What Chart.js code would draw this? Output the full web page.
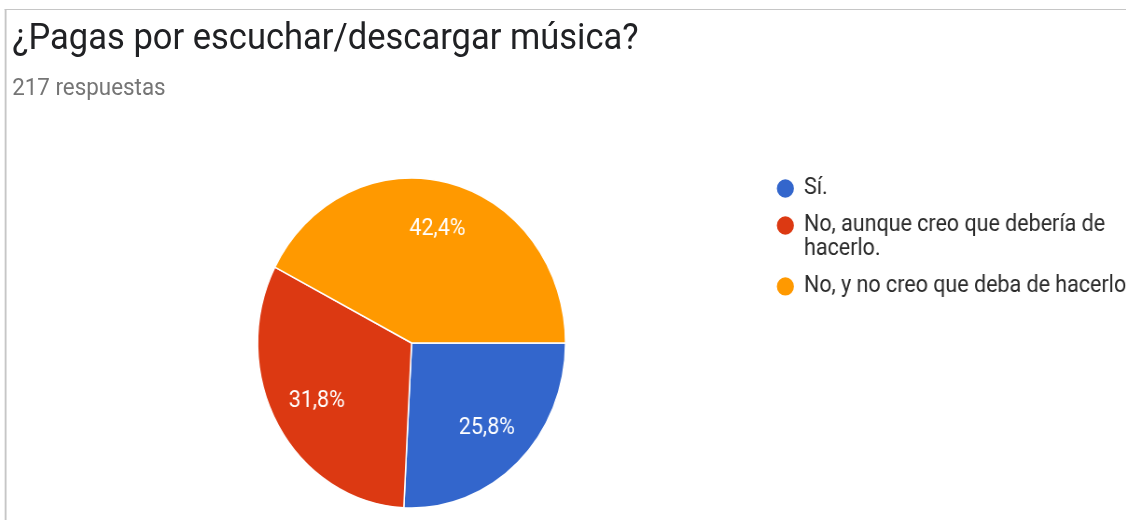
<!DOCTYPE html>
<html>
<head>
<meta charset="utf-8">
<script src="https://cdn.jsdelivr.net/npm/chart.js@4.4.1/dist/chart.umd.min.js"></script>
<style>
    html, body{
        margin: 0;
        padding: 0;
        background: #fff;
        overflow: hidden;
        width: 1126px;
        height: 520px;
    }
    #tarjeta{
        position: absolute;
        left: 0;
        top: 0;
        width: 1207px;
        height: 520px;
        transform: scaleX(0.933);
        transform-origin: 0 0;
        overflow: hidden;
        font-family: Roboto, Arial, sans-serif;
    }
    #marco{
        position: absolute;
        left: 5px;
        top: 9px;
        right: -10px;
        bottom: -10px;
        border-top: 1px solid #c6c6c6;
        border-left: 2px solid #c6c6c6;
    }
    #titulo{
        position: absolute;
        left: 13px;
        top: 18px;
        font-size: 37px;
        line-height: 37px;
        color: #202124;
        white-space: nowrap;
    }
    #subtitulo{
        position: absolute;
        left: 13px;
        top: 75px;
        font-size: 24px;
        line-height: 24px;
        color: #757575;
        white-space: nowrap;
    }
    #caja{
        position: absolute;
        left: 63px;
        top: 163px;
        width: 1154px;
        height: 360px;
    }
</style>
</head>
<body>
<div id="tarjeta">
    <div id="marco"></div>
    <div id="titulo">¿Pagas por escuchar/descargar música?</div>
    <div id="subtitulo">217 respuestas</div>
    <div id="caja"><canvas id="miGrafico" width="1154" height="360"></canvas></div>
</div>
<script>
// respuestas de la encuesta (217 en total)
const opciones = ["Sí.", ["No, aunque creo que debería de", "hacerlo."], "No, y no creo que deba de hacerlo"];
const respuestas = [56, 69, 92];
const colores = ["#3366cc", "#dc3912", "#ff9900"];

const total = respuestas.reduce((a, b) => a + b, 0);

function porcentaje(valor){
    return (valor / total * 100).toFixed(1).replace(".", ",") + "%";
}

// escribe el porcentaje dentro de cada porción
const etiquetas = {
    id: "etiquetas",
    afterDatasetsDraw(chart){
        const ctx = chart.ctx;
        const arcos = chart.getDatasetMeta(0).data;
        ctx.save();
        ctx.font = "23px Roboto";
        ctx.fillStyle = "#ffffff";
        ctx.textAlign = "center";
        ctx.textBaseline = "middle";
        arcos.forEach((arco, i) => {
            const p = arco.getProps(["x", "y", "startAngle", "endAngle", "outerRadius"], true);
            const medio = (p.startAngle + p.endAngle) / 2;
            const d = p.outerRadius * 0.71;
            ctx.fillText(porcentaje(respuestas[i]), p.x + Math.cos(medio) * d, p.y + Math.sin(medio) * d);
        });
        ctx.restore();
    }
};

const grafico = new Chart("miGrafico", {
    type: "pie",
    data: {
        labels: opciones,
        datasets: [{
            data: respuestas,
            backgroundColor: colores,
            borderColor: "#ffffff",
            borderWidth: 1.5
        }]
    },
    options: {
        responsive: false,
        animation: false,
        rotation: 90,
        radius: 165,
        layout: {padding: 0},
        plugins: {
            tooltip: {enabled: false},
            legend: {
                position: "right",
                align: "start",
                labels: {
                    usePointStyle: true,
                    pointStyle: "circle",
                    boxWidth: 17,
                    boxHeight: 14,
                    padding: 14,
                    color: "#2a2a2a",
                    font: {family: "Roboto", size: 23, lineHeight: 1.02}
                }
            }
        }
    },
    plugins: [etiquetas]
});
</script>
</body>
</html>
